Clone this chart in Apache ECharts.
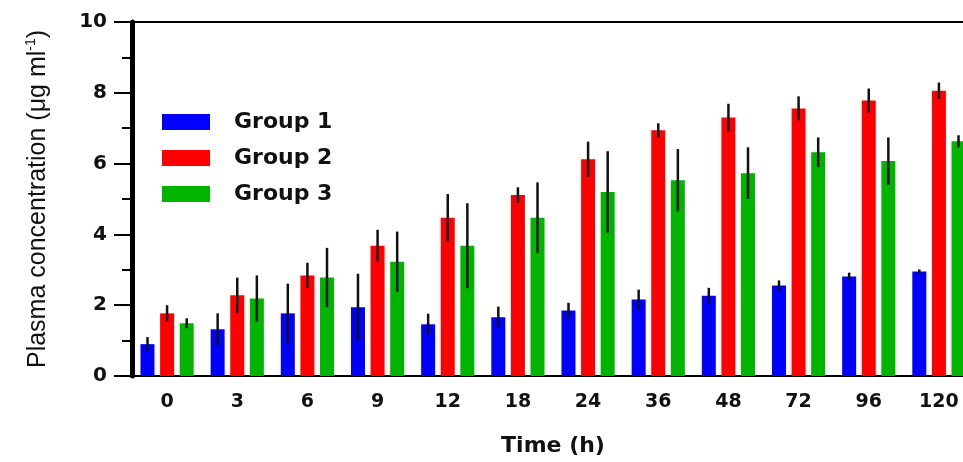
<!DOCTYPE html>
<html>
<head>
<meta charset="utf-8">
<script src="https://cdn.jsdelivr.net/npm/echarts@6/dist/echarts.min.js"></script>
<style>
  html, body { margin: 0; padding: 0; background: #fff; overflow: hidden; }
  /* the reference is cropped on the right, so the chart runs past the window */
  #chart { width: 990px; height: 462px; }
</style>
</head>
<body>
<div id="chart"></div>
<script>
var categories = ['0', '3', '6', '9', '12', '18', '24', '36', '48', '72', '96', '120']
var seriesNames = ['Group 1', 'Group 2', 'Group 3']
var group1 = [0.9, 1.32, 1.77, 1.94, 1.46, 1.66, 1.85, 2.16, 2.27, 2.56, 2.81, 2.95]
var group1Err = [0.2, 0.45, 0.84, 0.95, 0.3, 0.3, 0.22, 0.28, 0.22, 0.14, 0.11, 0.06]
var group2 = [1.77, 2.28, 2.84, 3.68, 4.47, 5.11, 6.12, 6.94, 7.3, 7.56, 7.78, 8.06]
var group2Err = [0.23, 0.5, 0.36, 0.45, 0.67, 0.22, 0.5, 0.2, 0.39, 0.34, 0.34, 0.23]
var group3 = [1.49, 2.19, 2.78, 3.23, 3.68, 4.47, 5.2, 5.53, 5.73, 6.32, 6.07, 6.63]
var group3Err = [0.14, 0.65, 0.84, 0.85, 1.2, 1.0, 1.15, 0.88, 0.73, 0.42, 0.67, 0.17]
var yTicks = { min: 0, max: 10, interval: 2 }

var colors = ['#0000ff', '#ff0000', '#00b400']
var barWidth = 14
var barStep = 19.6

var boldFont = 'DejaVu Sans'

function barSeries(index, values) {
  return {
    name: seriesNames[index],
    type: 'bar',
    barWidth: barWidth,
    barGap: '40%',
    itemStyle: { color: colors[index] },
    data: values
  }
}

// error bars drawn centred on each bar, both above and below its top
function errorSeries(index, values, errs) {
  var offset = (index - 1) * barStep
  return {
    name: seriesNames[index] + ' SD',
    type: 'custom',
    silent: true,
    z: 5,
    renderItem: function (params, api) {
      var i = api.value(0)
      var v = api.value(1)
      var e = api.value(2)
      var hi = api.coord([i, v + e])
      var lo = api.coord([i, v - e])
      return {
        type: 'line',
        shape: { x1: hi[0] + offset, y1: hi[1], x2: lo[0] + offset, y2: lo[1] },
        style: { stroke: '#111', lineWidth: 2.5 }
      }
    },
    encode: { x: 0, y: 1 },
    data: values.map(function (v, i) { return [i, v, errs[i]] })
  }
}

var chart = echarts.init(document.getElementById('chart'))

chart.setOption({
  animation: false,
  backgroundColor: '#fff',
  grid: {
    left: 132,
    top: 22,
    width: 842,
    bottom: 84,
    show: true,
    borderColor: '#000',
    borderWidth: 2
  },
  legend: {
    orient: 'vertical',
    left: 157,
    top: 106,
    itemWidth: 48,
    itemHeight: 16,
    itemGap: 14,
    icon: 'rect',
    data: seriesNames,
    textStyle: {
      fontFamily: boldFont,
      fontWeight: 'bold',
      fontSize: 22,
      lineHeight: 22,
      color: '#111',
      padding: [0, 0, 0, 19]
    }
  },
  xAxis: {
    type: 'category',
    data: categories,
    name: 'Time (h)',
    nameLocation: 'middle',
    nameGap: 59,
    nameTextStyle: { fontFamily: boldFont, fontWeight: 'bold', fontSize: 22, color: '#111' },
    axisLine: { lineStyle: { color: '#000', width: 2 } },
    axisTick: { alignWithLabel: true, length: 11, lineStyle: { color: '#000', width: 4 } },
    axisLabel: { margin: 17, fontFamily: boldFont, fontWeight: 'bold', fontSize: 19, color: '#111' }
  },
  yAxis: {
    type: 'value',
    min: yTicks.min,
    max: yTicks.max,
    interval: yTicks.interval,
    name: '{n|Plasma concentration (μg ml}{s|-1}{n|)}',
    nameLocation: 'middle',
    nameGap: 80,
    nameTextStyle: {
      rich: {
        n: { fontFamily: 'Liberation Sans', fontSize: 25, color: '#111', lineHeight: 28 },
        s: { fontFamily: 'Liberation Sans', fontSize: 14, color: '#111', verticalAlign: 'top', lineHeight: 14 }
      }
    },
    splitLine: { show: false },
    axisLine: { show: true, lineStyle: { color: '#000', width: 5 } },
    axisTick: { show: true, length: 18, lineStyle: { color: '#000', width: 2 } },
    minorTick: { show: true, splitNumber: 2, length: 10, lineStyle: { color: '#000', width: 2 } },
    axisLabel: { margin: 25, fontFamily: boldFont, fontWeight: 'bold', fontSize: 20, color: '#111' }
  },
  series: [
    barSeries(0, group1),
    barSeries(1, group2),
    barSeries(2, group3),
    errorSeries(0, group1, group1Err),
    errorSeries(1, group2, group2Err),
    errorSeries(2, group3, group3Err)
  ]
})
</script>
</body>
</html>
